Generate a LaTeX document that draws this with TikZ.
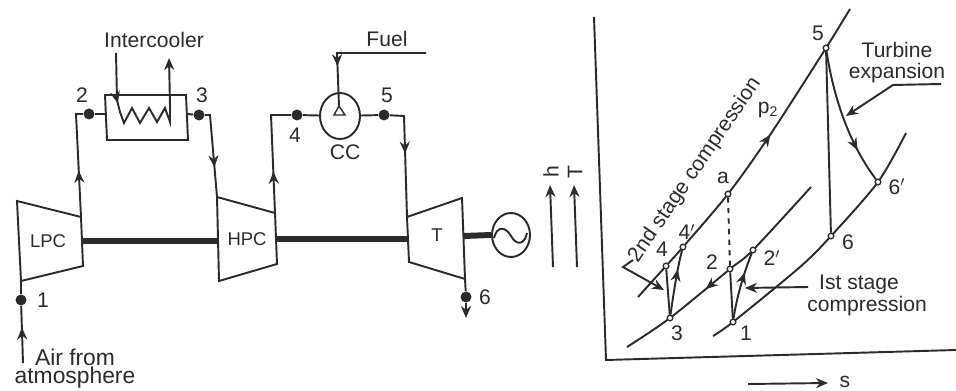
\documentclass[tikz,border=0pt]{standalone}
\usepackage{fontspec}
\setmainfont{Liberation Sans}
\usetikzlibrary{arrows.meta, decorations.markings, shapes.geometric}
\definecolor{inkDark}{HTML}{2B2B2B}
\tikzset{
  pipe/.style={draw=inkDark, line width=1.1pt},
  shaft/.style={draw=inkDark, line width=3.4pt},
  arrowK/.style={-{Stealth[length=2.4mm, width=2mm]}, inkDark, line width=1.1pt},
  midarrow/.style={postaction={decorate}, decoration={markings,
      mark=at position #1 with {\arrow{Stealth[length=2.4mm, width=2mm]}}}},
  txt/.style={font=\fontsize{12}{14}\selectfont, text=inkDark, inner sep=0pt, align=center},
  txtS/.style={txt, font=\fontsize{10.5}{12}\selectfont},
  txtL/.style={txt, font=\fontsize{13}{15}\selectfont},
  dotK/.style={circle, fill=inkDark, minimum size=2.2mm, inner sep=0pt},
  stateP/.style={circle, draw=inkDark, fill=white, line width=0.7pt, minimum size=1.1mm, inner sep=0pt},
  vessel/.style={ellipse, draw=inkDark, line width=1.1pt, inner sep=0pt},
}
\begin{document}
\begin{tikzpicture}[x=0.02cm, y=-0.02cm]
    \useasboundingbox (0,0) rectangle (956,391);

    %% Machines
    \draw[pipe] (17,201) coordinate (lpcA) -- (81,217) coordinate (lpcB)
        -- (83,266) coordinate (lpcC) -- (21,281) coordinate (lpcD) -- cycle;
    \draw[pipe] (217,197) coordinate (hpcA) -- (275,213) coordinate (hpcB)
        -- (277,264) coordinate (hpcC) -- (219,281) coordinate (hpcD) -- cycle;
    \draw[pipe] (407,217) coordinate (turA) -- (462,198) coordinate (turB)
        -- (465,279) coordinate (turC) -- (409,262) coordinate (turD) -- cycle;
    \node[txtS] (lpc) at (48,241) {LPC};
    \node[txtS] (hpc) at (247,239) {HPC};
    \node[txtS] (tur) at (437,235) {T};
    \node[vessel, minimum width=0.76cm, minimum height=0.88cm] (gen) at (511,235) {};
    \draw[inkDark, line width=1.1pt] (494,238) .. controls (497,226) and (505,226) .. (511,236)
        .. controls (516,245) and (524,246) .. (527,233);

    %% Shafts
    \coordinate (sA) at (83,241); \coordinate (sB) at (217,241);
    \coordinate (sC) at (277,239); \coordinate (sD) at (408,239);
    \coordinate (sE) at (464,236);
    \draw[shaft] (sA) -- (sB);
    \draw[shaft] (sC) -- (sD);
    \draw[shaft] (sE) -- (gen.west);

    %% Intercooler
    \draw[pipe] (105,95) coordinate (icA) -- (186,95) coordinate (icB)
        -- (188,140) coordinate (icC) -- (107,140) coordinate (icD) -- cycle;
    \node[txt] (iclabel) at (154,40) {Intercooler};
    \coordinate (coilIn) at (116,53);
    \coordinate (coilOut) at (169,58);
    \draw[pipe, midarrow=0.27] (coilIn) -- (117,100) -- (120,112) -- (124,123) -- (132,108)
        -- (140,123) -- (149,108) -- (157,122) -- (165,108) -- (170,122) -- (170,105);
    \draw[arrowK] (170,105) -- (coilOut);

    %% Combustion chamber
    \node[vessel, minimum width=0.8cm, minimum height=0.92cm] (cc) at (340,116) {};
    \node[txt] (cclabel) at (345,152) {CC};
    \node[txt] (fuellabel) at (387,39) {Fuel};
    \coordinate (fuelA) at (426,53);
    \coordinate (fuelB) at (337,53);
    \coordinate (nozzle) at (339,106);
    \draw[pipe, midarrow=0.72] (fuelA) -- (fuelB) -- (nozzle);
    \draw[inkDark, line width=0.8pt, fill=white] (nozzle) -- (334,115) -- (345,115) -- cycle;

    %% State dots
    \node[dotK] (p1) at (21,300) {};
    \node[dotK] (p2) at (89,114) {};
    \node[dotK] (p3) at (199,115) {};
    \node[dotK] (p4) at (297,115) {};
    \node[dotK] (p5) at (384,115) {};
    \node[dotK] (p6) at (466,297) {};
    \node[txt] (l1) at (43,300) {1};
    \node[txt] (l2) at (82,95) {2};
    \node[txt] (l3) at (202,95) {3};
    \node[txt] (l4) at (295,135) {4};
    \node[txt] (l5) at (387,95) {5};
    \node[txt] (l6) at (485,297) {6};

    %% Flow lines
    \coordinate (airIn) at (23,363);
    \coordinate (bendA) at (76,114);
    \coordinate (bendB) at (210,115);
    \coordinate (bendC) at (271,115);
    \coordinate (bendD) at (404,116);
    \coordinate (out6) at (466,318);
    \draw[pipe, midarrow=0.62] (airIn) -- (p1);
    \draw[pipe] (p1) -- (lpcD);
    \draw[pipe, midarrow=0.42] (lpcB) -- (bendA) -- (p2);
    \draw[pipe] (p2) -- (105,114);
    \draw[pipe] (187,114) -- (p3);
    \draw[pipe, midarrow=0.66] (p3) -- (bendB) -- (hpcA);
    \draw[pipe, midarrow=0.35] (hpcB) -- (bendC) -- (p4);
    \draw[pipe] (p4) -- (cc);
    \draw[pipe] (cc) -- (p5);
    \draw[pipe, midarrow=0.45] (p5) -- (bendD) -- (turA);
    \draw[pipe] (turC) -- (p6);
    \draw[arrowK] (p6) -- (out6);
    \node[txtL] (airlabel) at (75,357) {Air from};
    \node[txtL] (atmlabel) at (75,378) {atmosphere};

    %% h and T arrows
    \coordinate (hA) at (553,267); \coordinate (hB) at (550,185);
    \coordinate (tA) at (577,267); \coordinate (tB) at (574,185);
    \draw[arrowK] (hA) -- (hB);
    \draw[arrowK] (tA) -- (tB);
    \node[txt, rotate=90] (hlabel) at (551,172) {h};
    \node[txt, rotate=90] (tlabel) at (575,172) {T};

    %% Axes
    \coordinate (axTop) at (594,17);
    \coordinate (axO) at (606,360);
    \coordinate (axEnd) at (956,350);
    \draw[pipe] (axTop) -- (axO) -- (axEnd);
    \coordinate (sA1) at (748,384); \coordinate (sA2) at (828,383);
    \draw[arrowK] (sA1) -- (sA2);
    \node[txt] (slabel) at (845,382) {s};

    %% Cycle points
    \node[stateP] (n1) at (733,322) {};
    \node[stateP] (n2) at (730,269) {};
    \node[stateP] (n2p) at (753,250) {};
    \node[stateP] (n3) at (670,318) {};
    \node[stateP] (n4) at (666,266) {};
    \node[stateP] (n4p) at (683,247) {};
    \node[stateP] (na) at (728,194) {};
    \node[stateP] (n5) at (826,48) {};
    \node[stateP] (n6) at (831,236) {};
    \node[stateP] (n6p) at (878,182) {};

    %% Pressure lines
    \draw[pipe, midarrow=0.585] plot[smooth] coordinates {(638,297) (n4) (n4p) (na) (770,135) (n5) (850,9)};
    \draw[pipe, midarrow=0.6] plot[smooth] coordinates {(811,187) (n2p) (n2) (n3) (627,347)};
    \draw[pipe] plot[smooth] coordinates {(713,336) (n1) (800,267) (n6) (n6p) (906,133)};

    %% Processes
    \draw[pipe] (n3) -- (n4);
    \draw[pipe, midarrow=0.7] (n3) .. controls (674,290) and (678,265) .. (n4p);
    \draw[pipe] (n1) -- (n2);
    \draw[pipe, midarrow=0.7] (n1) .. controls (737,295) and (745,270) .. (n2p);
    \draw[pipe, dashed] (na) -- (n2);
    \draw[pipe] (n5) -- (n6);
    \draw[pipe, midarrow=0.75] (n5) .. controls (834,100) and (850,145) .. (n6p);
    \foreach \n in {n1,n2,n2p,n3,n4,n4p,na,n5,n6,n6p}
      \node[stateP] at (\n) {};

    %% T-s labels
    \node[txt] at (746,333) (t1) {1};
    \node[txt] at (712,262) (t2) {2};
    \node[txt] at (772,258) (t2p) {2$'$};
    \node[txt] at (677,333) (t3) {3};
    \node[txt] at (662,249) (t4) {4};
    \node[txt] at (687,232) (t4p) {4$'$};
    \node[txt] at (723,178) (ta) {a};
    \node[txt] at (818,33) (t5) {5};
    \node[txt] at (848,242) (t6) {6};
    \node[txt] at (897,187) (t6p) {6$'$};
    \node[txt] at (768,110) (tp2) {p\textsubscript{2}};
    \node[txt, rotate=55.6] at (695,170) (stage2) {2nd stage compression};
    \node[txt] at (859,284) (stage1a) {Ist stage};
    \node[txt] at (867,306) (stage1b) {compression};
    \node[txt] at (897,50) (tura) {Turbine};
    \node[txt] at (897,73) (turb) {expansion};

    %% Leaders
    \coordinate (ldA) at (633,260); \coordinate (ldB) at (623,267); \coordinate (ldC) at (664,290);
    \draw[arrowK] (ldA) -- (ldB) -- (ldC);
    \coordinate (ldD) at (808,287); \coordinate (ldE) at (745,288);
    \draw[arrowK] (ldD) -- (ldE);
    \coordinate (ldF) at (941,84); \coordinate (ldG) at (893,85); \coordinate (ldH) at (846,116);
    \draw[arrowK] (ldF) -- (ldG) -- (ldH);
\end{tikzpicture}
\end{document}
